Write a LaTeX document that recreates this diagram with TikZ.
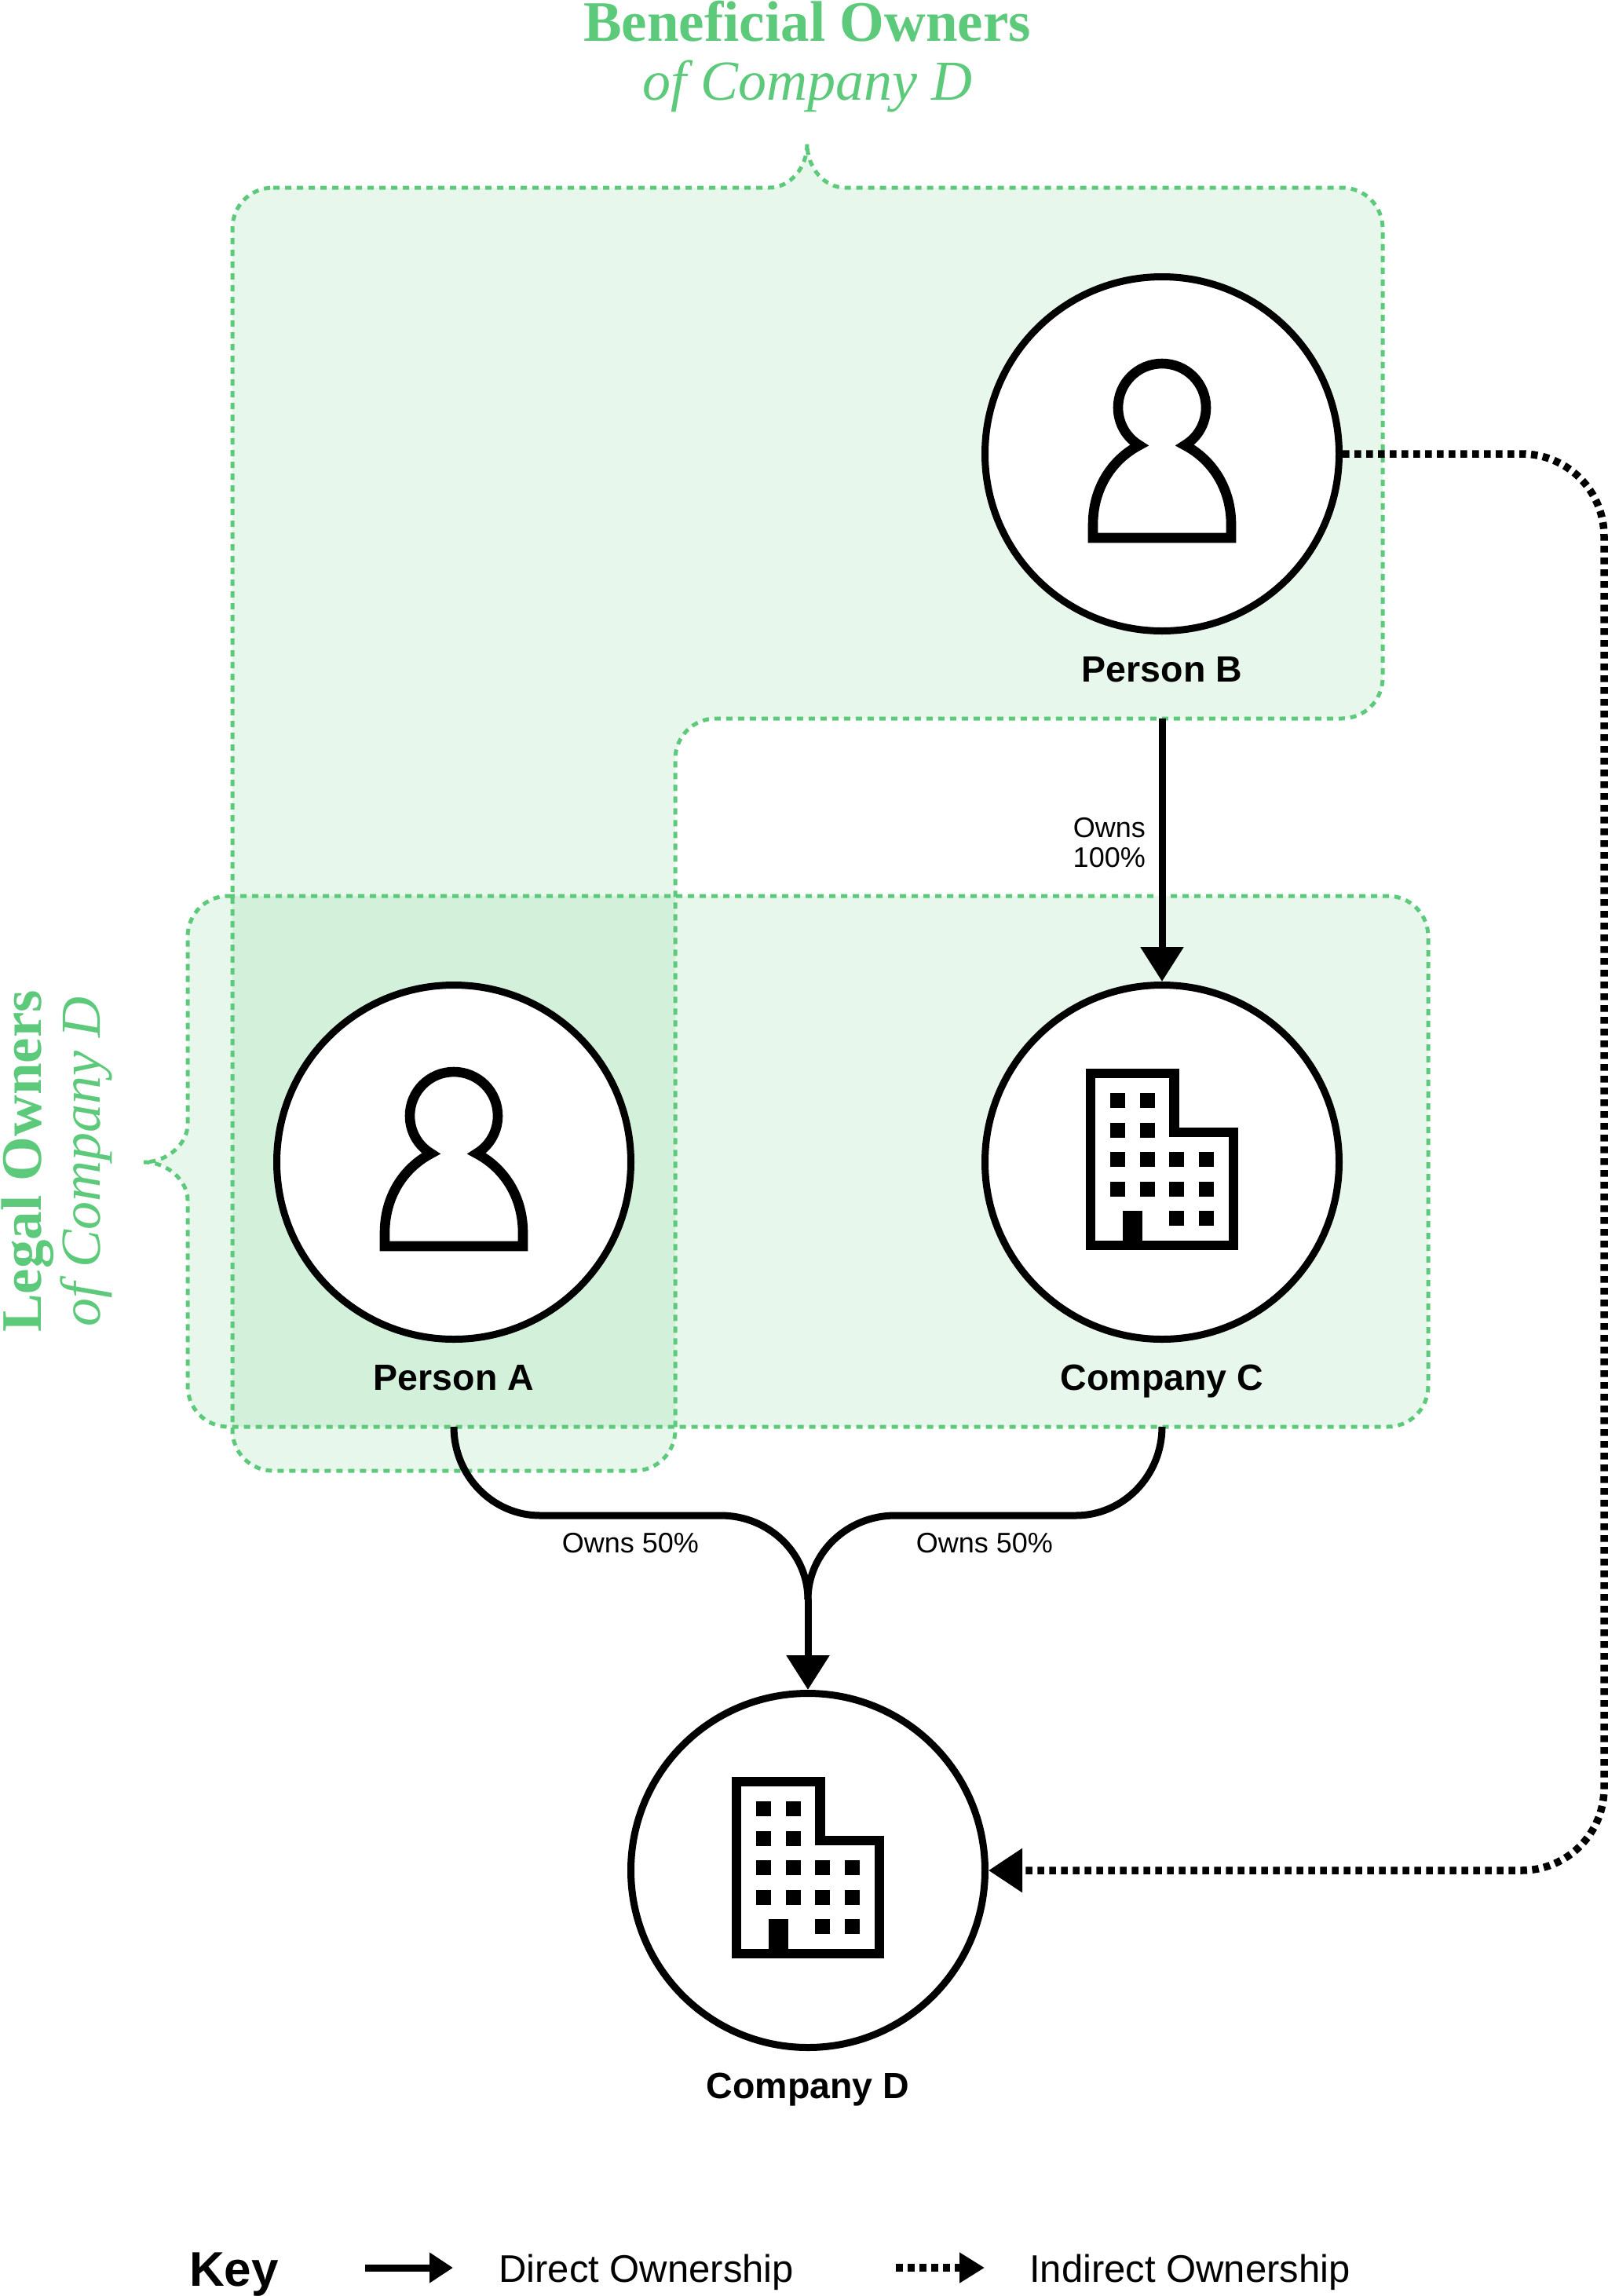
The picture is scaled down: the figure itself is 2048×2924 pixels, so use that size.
\documentclass[tikz,border=0pt]{standalone}
\usepackage{graphicx}
\usepackage{fontspec}
\setmainfont{Liberation Sans}
\newfontfamily\didone{Liberation Serif}
\usetikzlibrary{arrows.meta}
\definecolor{ownergreen}{HTML}{5DC97B}
\tikzset{
  x=1pt,y=-1pt,
  ownerfill/.style={fill=ownergreen,fill opacity=0.15,draw=none},
  ownerline/.style={draw=ownergreen,line width=5pt,dash pattern=on 8pt off 7pt},
  party/.style={circle,draw=black,fill=white,line width=9pt,minimum size=451pt,inner sep=0pt},
  partylabel/.style={anchor=base,inner sep=0pt,font=\fontsize{46.5}{50}\selectfont\bfseries},
  ownlabel/.style={anchor=base,inner sep=0pt,font=\fontsize{36}{39}\selectfont},
  keytext/.style={anchor=base west,inner sep=0pt,font=\fontsize{49}{55}\selectfont},
  titlebold/.style={anchor=base,inner sep=0pt,text=ownergreen,font=\fontsize{73}{76}\selectfont\didone\bfseries},
  titleital/.style={anchor=base,inner sep=0pt,text=ownergreen,font=\fontsize{72}{76}\selectfont\didone\itshape},
  direct/.style={draw=black,line width=9pt,-{Triangle[length=44pt,width=53pt]}},
  indirect/.style={draw=black,line width=9.5pt,dash pattern=on 8.5pt off 6.5pt,-{Triangle[length=43pt,width=54pt]}},
  keydirect/.style={draw=black,line width=9pt,-{Triangle[length=30pt,width=37pt]}},
  keyindirect/.style={draw=black,line width=9.5pt,dash pattern=on 8.5pt off 6.5pt,-{Triangle[length=32pt,width=37pt]}},
  branch/.style={draw=black,line width=9pt},
  icon/.style={draw=black,line width=12.6pt,miter limit=10,fill=white},
  person/.pic={
    \draw[icon] (-88,107) -- (-88,90) .. controls (-88,45) and (-65,8) .. (-29,-11)
      .. controls (-45.9,-21.2) and (-56,-39.3) .. (-56,-59)
      .. controls (-56,-90) and (-31,-115) .. (0,-115)
      .. controls (31,-115) and (56,-90) .. (56,-59)
      .. controls (56,-39.3) and (45.9,-21.2) .. (29,-11)
      .. controls (65,8) and (88,45) .. (88,90) -- (88,107) -- cycle;
  },
  building/.pic={
    \draw[icon] (-91,-113) -- (15.5,-113) -- (15.5,-38) -- (91,-38) -- (91,106) -- (-91,106) -- cycle;
    \fill[black] (-50.5,62.4) rectangle (-25,112);
    \foreach \wx in {-66,-28} \foreach \wy in {-88,-50.5}
      \fill[black] (\wx,\wy) rectangle +(19,19);
    \foreach \wx in {-66,-28,9,47} \foreach \wy in {-13,25}
      \fill[black] (\wx,\wy) rectangle +(19,19);
    \foreach \wx in {9,47}
      \fill[black] (\wx,62.4) rectangle +(19,19);
  }
}
\begin{document}
\begin{tikzpicture}
\useasboundingbox (0,0) rectangle (2048,2924);
\def\benpath{(348,239) -- (980,239) .. controls (1005,239) and (1028,215) .. (1028,183)
  .. controls (1028,215) and (1051,239) .. (1076,239)
  -- (1709,239) .. controls (1738,239) and (1761,262) .. (1761,291)
  -- (1761,863) .. controls (1761,892) and (1738,915) .. (1709,915)
  -- (912,915) .. controls (883,915) and (860,938) .. (860,967)
  -- (860,1821) .. controls (860,1850) and (837,1873) .. (808,1873)
  -- (348,1873) .. controls (319,1873) and (296,1850) .. (296,1821)
  -- (296,291) .. controls (296,262) and (319,239) .. (348,239) -- cycle}
\def\legalpath{(291,1141) -- (1767,1141) .. controls (1796,1141) and (1819,1164) .. (1819,1193)
  -- (1819,1765) .. controls (1819,1794) and (1796,1817) .. (1767,1817)
  -- (291,1817) .. controls (262,1817) and (239,1794) .. (239,1765)
  -- (239,1528) .. controls (239,1505) and (215,1480) .. (183,1480)
  .. controls (215,1480) and (239,1455) .. (239,1432)
  -- (239,1193) .. controls (239,1164) and (262,1141) .. (291,1141) -- cycle}
\path[ownerfill] \benpath;
\path[ownerfill] \legalpath;
\path[ownerline] \benpath;
\path[ownerline] \legalpath;

\node[party] (B) at (1480,578) {};
\node[party] (A) at (578,1480) {};
\node[party] (C) at (1480,1480) {};
\node[party] (D) at (1029,2382) {};
\pic at (B) {person};
\pic at (A) {person};
\pic at (C) {building};
\pic at (D) {building};

\node[partylabel] (Blabel) at (1480,868) {Person B};
\node[partylabel] (Alabel) at (578,1770) {Person A};
\node[partylabel] (Clabel) at (1480,1770) {Company C};
\node[partylabel] (Dlabel) at (1029,2672) {Company D};

\node[titlebold] (t1) at (1028,52) {Beneficial Owners};
\node[titleital] (t2) at (1028,127) {of Company D};
\node[titlebold,rotate=90] (t3) at (52,1479) {Legal Owners};
\node[titleital,rotate=90] (t4) at (127,1479) {of Company D};

\coordinate (bstart) at (1480,915);
\coordinate (aout) at (578,1817);
\coordinate (cout) at (1480,1817);
\coordinate (merge) at (1029,2037);

\draw[direct] (bstart) -- (C.north);
\node[ownlabel,anchor=base east] (o1) at (1459,1066) {Owns};
\node[ownlabel,anchor=base east] (o2) at (1459,1104) {100\%};

\draw[branch] (aout) .. controls (578,1879) and (627,1930) .. (688,1930) -- (918,1930)
  .. controls (979,1930) and (1029,1978) .. (merge);
\draw[branch] (cout) .. controls (1480,1879) and (1431,1930) .. (1370,1930) -- (1140,1930)
  .. controls (1079,1930) and (1029,1978) .. (merge);
\draw[direct] (merge) -- (D.north);
\node[ownlabel] (o3) at (803,1977) {Owns 50\%};
\node[ownlabel] (o4) at (1254,1977) {Owns 50\%};

\coordinate (c1) at (1938,578);
\coordinate (c2) at (2043,683);
\coordinate (c3) at (2043,2277);
\coordinate (c4) at (1938,2382);
\draw[indirect] (B.east) -- (c1) .. controls (1996,578) and (2043,625) .. (c2) -- (c3)
  .. controls (2043,2335) and (1996,2382) .. (c4) -- (D.east);

\node[anchor=base west,inner sep=0pt,font=\fontsize{62}{66}\selectfont\bfseries] (key) at (241,2911) {Key};
\coordinate (k1s) at (465,2888);
\coordinate (k1e) at (577,2888);
\coordinate (k2s) at (1141,2888);
\coordinate (k2e) at (1254,2888);
\draw[keydirect] (k1s) -- (k1e);
\draw[keyindirect] (k2s) -- (k2e);
\node[keytext] (k1) at (635,2906) {Direct Ownership};
\node[keytext] (k2) at (1311,2906) {Indirect Ownership};
\end{tikzpicture}
\end{document}
